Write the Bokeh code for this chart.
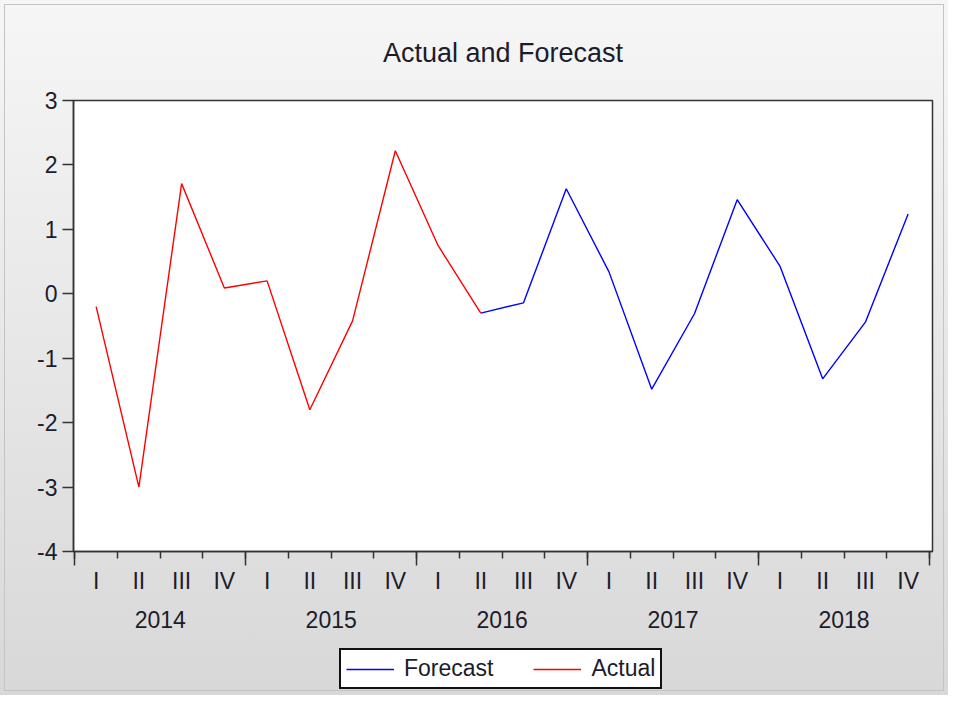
from bokeh.plotting import figure
from bokeh.models import FixedTicker, LinearAxis, Legend, LegendItem, Range1d
from bokeh.layouts import column
from bokeh.embed import file_html
from bokeh.resources import INLINE

quarters = ["I", "II", "III", "IV"]
years = ["2014", "2015", "2016", "2017", "2018"]
actual = [-0.2, -3.0, 1.71, 0.09, 0.2, -1.8, -0.42, 2.22, 0.75, -0.3]
forecast_start = 9
forecast = [-0.3, -0.14, 1.63, 0.34, -1.48, -0.31, 1.46, 0.43, -1.32, -0.44, 1.24]
y_ticks = [-4, -3, -2, -1, 0, 1, 2, 3]
series_names = ["Forecast", "Actual"]
series_colors = ["#0000ff", "#ff0000"]

n = len(years) * len(quarters)
x_actual = [i + 0.5 for i in range(len(actual))]
x_fore = [forecast_start + i + 0.5 for i in range(len(forecast))]

FONT = "Liberation Sans"
TXT = "#1c1c2a"
TICK_FS = "23px"

p = figure(width=948, height=645, output_backend="svg", toolbar_location=None,
           x_range=Range1d(-0.03, n + 0.07), y_range=Range1d(y_ticks[0], y_ticks[-1]),
           min_border_left=73, min_border_right=16, min_border_top=100, min_border_bottom=94,
           x_axis_location=None)
p.border_fill_color = None
p.background_fill_color = "white"
p.outline_line_color = "#333333"
p.outline_line_width = 1.5
p.grid.visible = False

p.title.text = "Actual and Forecast"
p.title.align = "center"
p.title.text_font = FONT
p.title.text_font_size = "27px"
p.title.text_font_style = "normal"
p.title.text_color = TXT
p.title.standoff = 65

ya = p.yaxis[0]
ya.ticker = FixedTicker(ticks=y_ticks)
ya.major_label_overrides = {t: str(t) for t in y_ticks}
ya.major_tick_out = 11
ya.major_tick_in = 0
ya.minor_tick_out = 0
ya.minor_tick_in = 0
ya.major_tick_line_width = 1.5
ya.major_tick_line_color = "#333333"
ya.axis_line_color = "#333333"
ya.axis_line_width = 1.5
ya.major_label_text_font = FONT
ya.major_label_text_font_size = TICK_FS
ya.major_label_text_color = TXT
ya.major_label_standoff = 5

# tick-only axis: long ticks at year boundaries, short ticks at quarter boundaries
bounds = [4 * k for k in range(len(years) + 1)]
ax_t = LinearAxis(ticker=FixedTicker(ticks=bounds, minor_ticks=list(range(n + 1))))
ax_t.major_tick_out = 14
ax_t.major_tick_in = 0
ax_t.minor_tick_out = 7
ax_t.minor_tick_in = 0
ax_t.major_tick_line_width = 1.5
ax_t.minor_tick_line_width = 1.5
ax_t.major_tick_line_color = "#333333"
ax_t.minor_tick_line_color = "#333333"
ax_t.axis_line_color = "#333333"
ax_t.axis_line_width = 1.5
ax_t.major_label_text_font_size = "1px"
ax_t.major_label_text_color = None
ax_t.major_label_standoff = 0
p.add_layout(ax_t, "below")

# quarter labels
q_centers = [i + 0.5 for i in range(n)]
ax_q = LinearAxis(ticker=FixedTicker(ticks=q_centers),
                  major_label_overrides={c: quarters[i % 4] for i, c in enumerate(q_centers)})
ax_q.axis_line_color = None
ax_q.major_tick_line_color = None
ax_q.minor_tick_line_color = None
ax_q.major_tick_out = 0
ax_q.major_label_text_font = FONT
ax_q.major_label_text_font_size = TICK_FS
ax_q.major_label_text_color = TXT
ax_q.major_label_standoff = 2
p.add_layout(ax_q, "below")

# year labels
y_centers = [4 * k + 2 for k in range(len(years))]
ax_y = LinearAxis(ticker=FixedTicker(ticks=y_centers),
                  major_label_overrides={c: years[k] for k, c in enumerate(y_centers)})
ax_y.axis_line_color = None
ax_y.major_tick_line_color = None
ax_y.minor_tick_line_color = None
ax_y.major_tick_out = 0
ax_y.major_label_text_font = FONT
ax_y.major_label_text_font_size = TICK_FS
ax_y.major_label_text_color = TXT
ax_y.major_label_standoff = 14
p.add_layout(ax_y, "below")

p.line(x_fore, forecast, line_color=series_colors[0], line_width=1.4)
p.line(x_actual, actual, line_color=series_colors[1], line_width=1.4)

# legend strip below the chart; its key renderers are hidden copies of the series
lg = figure(width=948, height=50, output_backend="svg", toolbar_location=None,
            x_range=Range1d(0, 1), y_range=Range1d(0, 1),
            x_axis_location=None, y_axis_location=None,
            min_border_left=0, min_border_right=0, min_border_top=0, min_border_bottom=0)
lg.border_fill_color = None
lg.background_fill_color = None
lg.outline_line_color = None
lg.grid.visible = False
keys = [lg.line(x_fore, forecast, line_color=series_colors[0], line_width=1.4, visible=False),
        lg.line(x_actual, actual, line_color=series_colors[1], line_width=1.4, visible=False)]

legend = Legend(items=[LegendItem(label=nm, renderers=[r]) for nm, r in zip(series_names, keys)],
                orientation="horizontal", location=(266, 6))
legend.label_text_font = FONT
legend.label_text_font_size = TICK_FS
legend.label_text_color = TXT
legend.glyph_width = 48
legend.glyph_height = 20
legend.label_standoff = 10
legend.spacing = 40
legend.padding = 5
legend.margin = 0
legend.inactive_fill_alpha = 0
legend.border_line_color = "#111111"
legend.border_line_alpha = 1
legend.border_line_width = 2
legend.background_fill_color = "white"
legend.background_fill_alpha = 1
lg.add_layout(legend, "center")

page = column(p, lg, spacing=0,
              styles={"background-image": "linear-gradient(to bottom, #f6f6f6, #d8d8d8)",
                      "outline": "1px solid #c4c4c4", "outline-offset": "-5px"})

open("out.html", "w").write(file_html(page, INLINE))
